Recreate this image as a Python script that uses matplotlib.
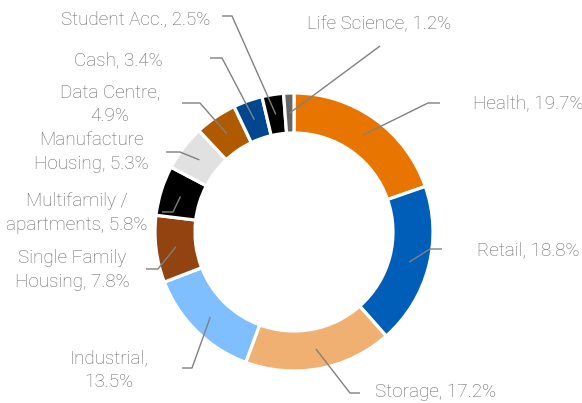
import numpy as np
import matplotlib
matplotlib.use("Agg")
import matplotlib.pyplot as plt

label_texts = ["Health, 19.7%", "Retail, 18.8%", "Storage, 17.2%", "Industrial,\n13.5%",
               "Single Family\nHousing, 7.8%", "Multifamily /\napartments, 5.8%",
               "Manufacture\nHousing, 5.3%", "Data Centre,\n4.9%", "Cash, 3.4%",
               "Student Acc., 2.5%", "Life Science, 1.2%"]
values = [19.7, 18.8, 17.2, 13.5, 7.8, 5.8, 5.3, 4.9, 3.4, 2.5, 1.2]
colors = ["#E87500", "#005EB8", "#F0B072", "#80BFFF", "#924310", "#000000",
          "#E1E1E1", "#B05A00", "#00478F", "#000000", "#666666"]

W, H = 582, 403
fig = plt.figure(figsize=(W / 100, H / 100), dpi=100)
ax = fig.add_axes([0, 0, 1, 1])

cx, cy = 294, H - 232
R = 139
width = 40
wedges, _ = ax.pie(values, colors=colors, startangle=90, counterclock=False,
                   radius=R, center=(cx, cy),
                   wedgeprops=dict(width=width, edgecolor="white", linewidth=2.3))
ax.set_xlim(0, W)
ax.set_ylim(0, H)
ax.set_aspect("equal")
ax.axis("off")

# layout: (elbow_x, elbow_y, end_x, end_y, text_x, text_y, ha)
layout = [
    (428, 103, 440, 103, 473, 103, "left"),
    (430, 249, 442, 249, 477, 250, "left"),
    (350, 393, 360, 393, 375, 392, "left"),
    (192, 368, 182, 368, 109, 370, "center"),
    (158, 269, 146, 269, 72, 270, "center"),
    (173, 212, 162, 212, 77, 213, "center"),
    (180, 152, 166, 152, 91, 152, "center"),
    (200, 103, 182, 103, 110, 104, "center"),
    (222, 58, 210, 58, 118, 60, "center"),
    (232, 16, 222, 16, 136, 19, "center"),
    (380, 46, 380, 46, 307, 24, "left"),
]

r_anchor = R - width / 2
tc = "#666666"
for w, lab, (ex, ey, nx, ny, tx, ty, ha) in zip(wedges, label_texts, layout):
    ang = np.deg2rad((w.theta1 + w.theta2) / 2)
    sx = cx + r_anchor * np.cos(ang)
    sy = cy + r_anchor * np.sin(ang)
    ax.plot([sx, ex, nx], [sy, H - ey, H - ny], color="#808080", lw=1, solid_capstyle="butt")
    ax.text(tx, H - ty, lab, ha=ha, va="center", multialignment="center",
            fontsize=13.6, color=tc, family="Roboto", fontweight="light",
            linespacing=1.38)

fig.savefig("out.png", dpi=100)
